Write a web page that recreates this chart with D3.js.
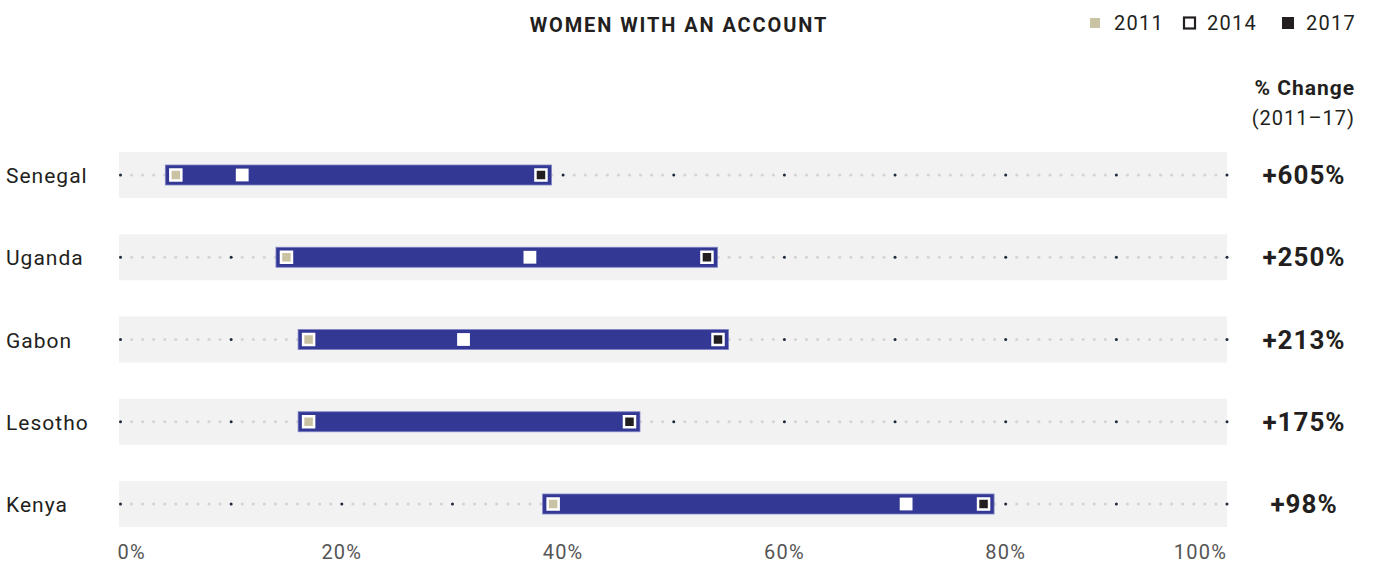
<!DOCTYPE html>
<html>
<head>
<meta charset="utf-8">
<script src="https://cdn.jsdelivr.net/npm/d3@7"></script>
<style>
  body { margin: 0; background: #fff; }
  svg { display: block; font-family: Roboto, 'Noto Sans', sans-serif; }
</style>
</head>
<body>
<div class="chart"></div>
<script>
const countries = ['Senegal', 'Uganda', 'Gabon', 'Lesotho', 'Kenya'];
const v2011 = [5.0, 15.0, 17.0, 17.0, 39.1];
const v2014 = [11.0, 37.0, 31.0, null, 71.0];
const v2017 = [38.0, 53.0, 54.0, 46.0, 78.0];
const changes = ['+605%', '+250%', '+213%', '+175%', '+98%'];
const tickValues = [0, 20, 40, 60, 80, 100];
const legendYears = ['2011', '2014', '2017'];

const width = 1374, height = 565;
const svg = d3.select('.chart').append('svg')
    .attr('width', width)
    .attr('height', height);

const x = d3.scaleLinear().domain([0, 100]).range([120.5, 1227]);
const y = d3.scalePoint().domain(countries).range([175, 504]);
const rowH = 46, barH = 20, pad = 10.5;

const data = countries.map(function (c, i) {
    return { country: c, a: v2011[i], b: v2014[i], c: v2017[i], change: changes[i] };
});

// title + legend
svg.append('text')
    .attr('x', 679).attr('y', 32)
    .attr('text-anchor', 'middle')
    .style('font-weight', 700).style('font-size', '20px').style('fill', '#231f20')
    .style('letter-spacing', '1.9px')
    .text('WOMEN WITH AN ACCOUNT');

const legend = svg.append('g').attr('transform', 'translate(0, 23)');
const legendX = [1090, 1183, 1282];
legend.append('rect').attr('x', legendX[0]).attr('y', -5).attr('width', 10).attr('height', 10).attr('fill', '#c9c2a3');
legend.append('rect').attr('x', legendX[1] + 1).attr('y', -5.5).attr('width', 11).attr('height', 11)
    .attr('fill', 'none').attr('stroke', '#231f20').attr('stroke-width', 2.2);
legend.append('rect').attr('x', legendX[2]).attr('y', -6).attr('width', 12).attr('height', 12).attr('fill', '#231f20');
legend.selectAll('text.yr').data(legendYears).enter().append('text')
    .attr('class', 'yr')
    .attr('x', function (d, i) { return legendX[i] + 24; })
    .attr('y', 7)
    .style('font-size', '20px').style('fill', '#231f20').style('letter-spacing', '1.3px')
    .text(function (d) { return d; });

// % change header
svg.append('text').attr('x', 1355).attr('y', 95).attr('text-anchor', 'end')
    .style('font-weight', 700).style('font-size', '21px').style('fill', '#231f20')
    .style('letter-spacing', '1px')
    .text('% Change');
svg.append('text').attr('x', 1355).attr('y', 125).attr('text-anchor', 'end')
    .style('font-size', '20px').style('fill', '#231f20').style('letter-spacing', '1px')
    .text('(2011–17)');

const rows = svg.append('g').selectAll('g.row').data(data).enter().append('g')
    .attr('class', 'row')
    .attr('transform', function (d) { return 'translate(0,' + y(d.country) + ')'; });

rows.append('rect')
    .attr('x', x(0) - 1.5).attr('y', -rowH / 2)
    .attr('width', x(100) - x(0) + 1.5).attr('height', rowH)
    .attr('fill', '#f2f2f2');

rows.selectAll('circle').data(d3.range(0, 101)).enter().append('circle')
    .attr('cx', function (d) { return x(d); })
    .attr('cy', 0)
    .attr('r', function (d) { return d % 10 === 0 ? 1.5 : 1.6; })
    .attr('fill', function (d) { return d % 10 === 0 ? '#1f2a3c' : '#d4d4d4'; });

rows.append('text')
    .attr('x', 6).attr('y', 8)
    .style('font-size', '21px').style('fill', '#231f20').style('letter-spacing', '1px')
    .text(function (d) { return d.country; });

rows.append('rect')
    .attr('x', function (d) { return x(d.a) - pad; })
    .attr('y', -barH / 2)
    .attr('width', function (d) { return x(d.c) - x(d.a) + 2 * pad; })
    .attr('height', barH)
    .attr('fill', '#333895')
    .attr('stroke', '#7f82c4').attr('stroke-width', 0.8);

function marker(sel, key, fill, inner) {
    sel.filter(function (d) { return d[key] != null; })
        .append('rect')
        .attr('x', function (d) { return x(d[key]) - 5.5; })
        .attr('y', -5.5)
        .attr('width', 11).attr('height', 11)
        .attr('fill', fill)
        .attr('stroke', '#fff').attr('stroke-width', inner);
}
marker(rows, 'a', '#c9c2a3', 2.5);
marker(rows, 'b', '#ffffff', 1.8);
marker(rows, 'c', '#231f20', 2.5);

rows.append('text')
    .attr('x', 1304).attr('y', 9)
    .attr('text-anchor', 'middle')
    .style('font-weight', 700).style('font-size', '26px').style('fill', '#231f20')
    .style('letter-spacing', '1px')
    .text(function (d) { return d.change; });

// axis labels
svg.append('g').selectAll('text').data(tickValues).enter().append('text')
    .attr('x', function (d) { return x(d); })
    .attr('y', 559)
    .attr('text-anchor', function (d) { return d === 0 ? 'start' : (d === 100 ? 'end' : 'middle'); })
    .attr('dx', function (d) { return d === 0 ? -3 : 0; })
    .style('font-size', '20px').style('fill', '#555').style('letter-spacing', '1.2px')
    .text(function (d) { return d + '%'; });
</script>
</body>
</html>
